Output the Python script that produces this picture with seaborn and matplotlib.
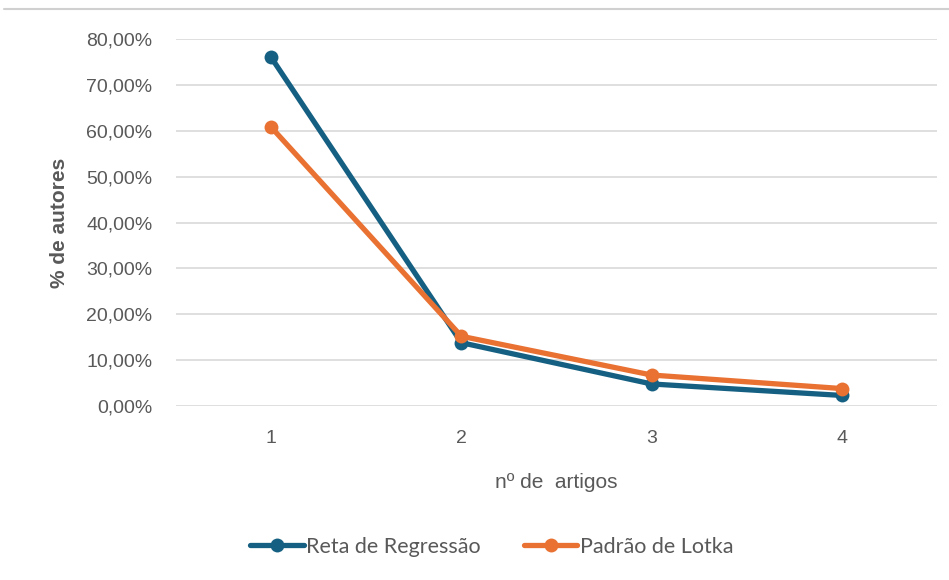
import matplotlib
matplotlib.use("Agg")
import matplotlib.pyplot as plt
from matplotlib.lines import Line2D
from matplotlib.ticker import FuncFormatter
import seaborn as sns
import pandas as pd

# Number of articles per author and share of authors (fraction)
artigos = [1, 2, 3, 4]
reta_regressao = [0.760, 0.138, 0.048, 0.023]
padrao_lotka = [0.6079, 0.152, 0.0675, 0.038]
series_names = ["Reta de Regressão", "Padrão de Lotka"]
colors = ["#156082", "#E97132"]

df = pd.DataFrame({
    "artigos": artigos * 2,
    "pct": reta_regressao + padrao_lotka,
    "serie": [series_names[0]] * 4 + [series_names[1]] * 4,
})

sns.set_theme(style="white")
plt.rcParams["font.family"] = ["Liberation Sans", "DejaVu Sans"]

fig = plt.figure(figsize=(9.49, 5.8), dpi=100)
ax = fig.add_axes([176 / 949, 1 - 406 / 580, (937 - 176) / 949, (406 - 39) / 580])

sns.lineplot(
    data=df, x="artigos", y="pct", hue="serie", palette=colors,
    marker="o", markersize=10, markeredgewidth=0, linewidth=3.8,
    ax=ax, legend=False, zorder=3,
)

ax.set_xlim(0.5, 4.5)
ax.set_ylim(0, 0.8)
ax.set_xticks(artigos)
ax.set_xticklabels([str(a) for a in artigos])
ax.set_yticks([i / 10 for i in range(9)])
ax.yaxis.set_major_formatter(FuncFormatter(lambda v, p: f"{v*100:.2f}%".replace(".", ",")))
ax.grid(axis="y", color="#d9d9d9", linewidth=1.2)
ax.grid(axis="x", visible=False)
for s in ax.spines.values():
    s.set_visible(False)
ax.tick_params(axis="both", length=0, labelsize=14, colors="#595959")
ax.tick_params(axis="y", pad=17)
ax.tick_params(axis="x", pad=17)

ax.set_xlabel("nº de  artigos", fontsize=15, color="#595959", labelpad=19)
ax.set_ylabel("% de autores", fontsize=15, color="#595959", fontweight="bold", labelpad=12)

handles = [
    Line2D([0], [0], color=c, linewidth=3.8, marker="o", markersize=10, markeredgewidth=0)
    for c in colors
]
fig.legend(
    handles, series_names, loc="center", bbox_to_anchor=(0.518, 1 - 547 / 580),
    ncol=2, frameon=False, handlelength=2.5, handletextpad=0.1, columnspacing=2.0,
    prop={"family": ["Lato", "DejaVu Sans"], "size": 15.5}, labelcolor="#595959",
)

# thin rule along the top edge
fig.add_artist(Line2D([4 / 949, 1], [1 - 9 / 580, 1 - 9 / 580], color="#d0d0d0",
                      linewidth=1.5, transform=fig.transFigure))

fig.savefig("out.png", dpi=100, facecolor="white")
